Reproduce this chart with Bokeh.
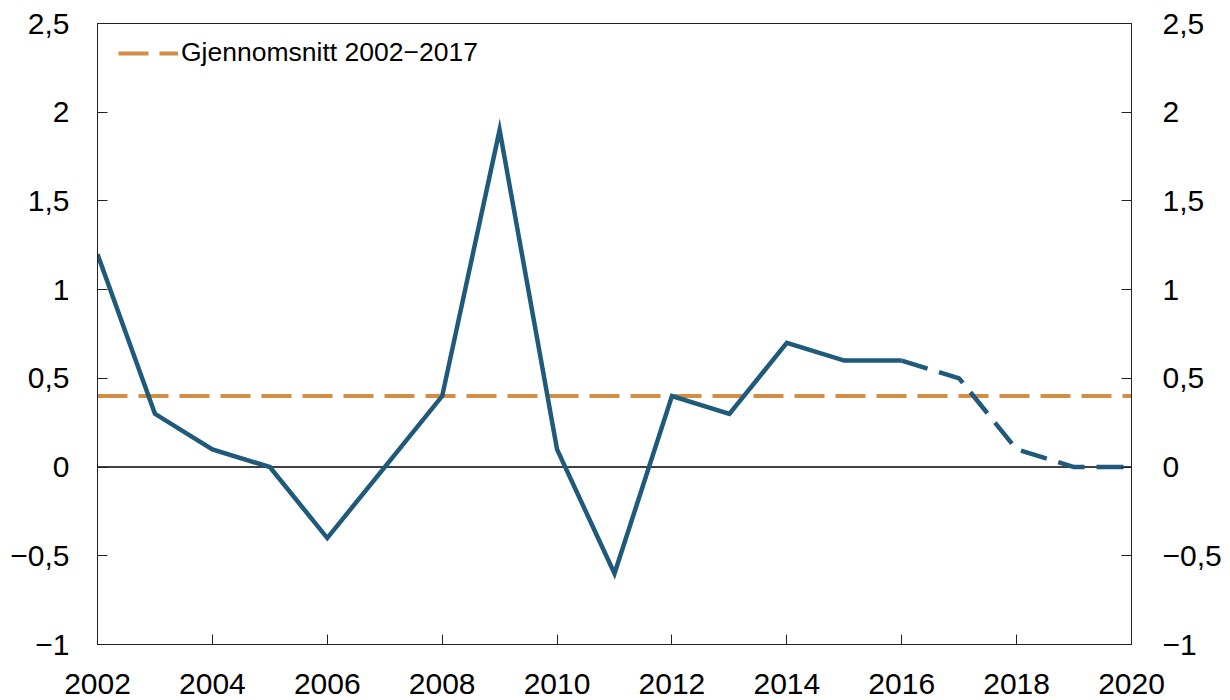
from bokeh.plotting import figure
from bokeh.models import LinearAxis, FixedTicker, Span, Legend, LegendItem, Range1d, ColumnDataSource
from bokeh.embed import file_html
from bokeh.resources import INLINE

years = [2002, 2003, 2004, 2005, 2006, 2007, 2008, 2009, 2010, 2011,
         2012, 2013, 2014, 2015, 2016, 2017, 2018, 2019, 2020]
values = [1.2, 0.3, 0.1, 0.0, -0.4, 0.0, 0.4, 1.9, 0.1, -0.6,
          0.4, 0.3, 0.7, 0.6, 0.6, 0.5, 0.1, 0.0, 0.0]
last_actual = 2016
average_value = 0.4
average_label = "Gjennomsnitt 2002\u22122017"
x_ticks = [2002, 2004, 2006, 2008, 2010, 2012, 2014, 2016, 2018, 2020]
y_ticks = [-1, -0.5, 0, 0.5, 1, 1.5, 2, 2.5]
y_tick_labels = ["\u22121", "\u22120,5", "0", "0,5", "1", "1,5", "2", "2,5"]

BLUE = "#1f5a7a"
ORANGE = "#d38e43"
FONT = "Liberation Sans"
AX = "#222222"

W, H = 1225, 707
p = figure(width=W, height=H,
           x_range=Range1d(years[0], years[-1]), y_range=Range1d(y_ticks[0], y_ticks[-1]),
           output_backend="svg", toolbar_location=None,
           min_border_left=97, min_border_right=W - 1131, min_border_top=23, min_border_bottom=H - 644)
p.grid.visible = False
p.outline_line_color = AX
p.outline_line_width = 1
p.background_fill_color = "white"
p.border_fill_color = "white"

# zero line
p.add_layout(Span(location=0, dimension="width", line_color="black", line_width=1.5, level="underlay"))

# average line
avg = p.line([years[0], years[-1]], [average_value, average_value], line_color=ORANGE,
             line_width=4, line_dash="30 11")

# actual (solid) and projected (dashed)
idx = years.index(last_actual)
src_a = ColumnDataSource(dict(x=years[:idx + 1], y=values[:idx + 1]))
src_p = ColumnDataSource(dict(x=years[idx:], y=values[idx:]))
p.line("x", "y", source=src_a, line_color=BLUE, line_width=4.5, line_join="miter")
p.line("x", "y", source=src_p, line_color=BLUE, line_width=4.5, line_dash="27 12")

override = {v: l for v, l in zip(y_ticks, y_tick_labels)}

def style(ax, standoff):
    ax.major_tick_in = 10
    ax.major_tick_out = 0
    ax.minor_tick_in = 0
    ax.minor_tick_out = 0
    ax.axis_line_color = AX
    ax.major_tick_line_color = AX
    ax.major_label_text_font = FONT
    ax.major_label_text_font_size = "30px"
    ax.major_label_text_color = "black"
    ax.major_label_standoff = standoff

xa = p.xaxis[0]
xa.ticker = FixedTicker(ticks=x_ticks)
style(xa, 29)

ya = p.yaxis[0]
ya.ticker = FixedTicker(ticks=y_ticks)
ya.major_label_overrides = override
style(ya, 28)

yr = LinearAxis(ticker=FixedTicker(ticks=y_ticks), major_label_overrides=override)
style(yr, 31)
p.add_layout(yr, "right")

legend = Legend(items=[LegendItem(label=average_label, renderers=[avg])],
                location=(21, 576), padding=0, margin=0,
                border_line_alpha=0, background_fill_alpha=0,
                glyph_width=60, glyph_height=20, label_standoff=3,
                label_text_font=FONT, label_text_font_size="26.5px",
                label_text_color="black")
p.add_layout(legend)

open("out.html", "w").write(file_html(p, INLINE))
